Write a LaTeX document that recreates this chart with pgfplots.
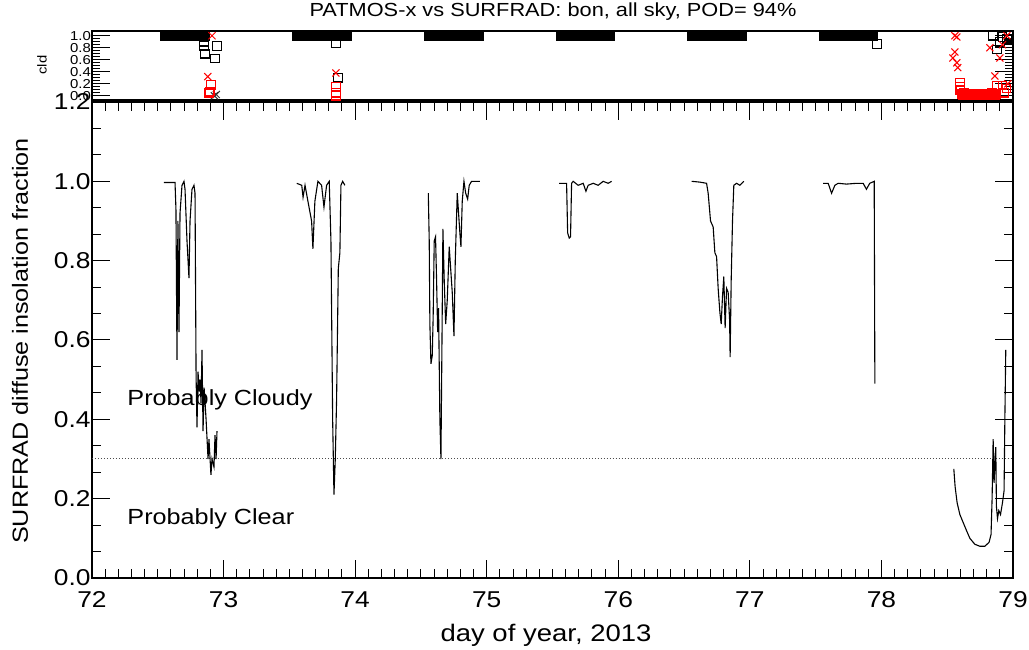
\documentclass[border=0pt]{standalone}
\usepackage{fontspec}
\setmainfont{Liberation Sans}[FakeStretch=1.15]
\usepackage{pgfplots}
\pgfplotsset{compat=1.18}
\begin{document}
\begin{tikzpicture}[x=1bp,y=1bp]
\path[use as bounding box] (0,0) rectangle (1029,650);
% ---------------- main panel ----------------
\begin{axis}[
  at={(92bp,72bp)}, anchor=south west,
  width=921bp, height=476bp, scale only axis,
  xmin=72, xmax=79, ymin=0, ymax=1.2,
  xtick={72,73,74,75,76,77,78,79},
  ytick={0,0.2,0.4,0.6,0.8,1.0,1.2},
  minor x tick num=9, minor y tick num=2,
  major tick length=18bp, minor tick length=9bp,
  tick align=inside,
  every tick/.style={black, line width=1bp},
  axis line style={black, line width=1.3bp},
  /pgf/number format/assume math mode=true,
  tick label style={font=\fontsize{23}{23}\selectfont},
  yticklabel style={/pgf/number format/fixed,/pgf/number format/fixed zerofill,/pgf/number format/precision=1, xshift=2bp},
  xticklabel style={yshift=-10bp},
  clip=false,
]
\addplot[black!70, line width=1bp, dotted] coordinates {(72,0.3) (79,0.3)};
% segment 1
\addplot[black, line width=1.1bp] coordinates {
(72.547,0.997)(72.631,0.997)(72.638,0.93)(72.646,0.55)(72.653,0.90)(72.661,0.62)(72.669,0.92)
(72.684,0.99)(72.699,1.0)(72.707,0.98)(72.722,0.85)(72.737,0.756)(72.745,0.90)(72.760,0.98)
(72.775,0.99)(72.783,0.97)(72.791,0.51)(72.798,0.38)(72.806,0.52)(72.814,0.47)(72.821,0.50)
(72.829,0.44)(72.836,0.575)(72.844,0.37)(72.852,0.48)(72.867,0.40)(72.882,0.30)(72.889,0.35)
(72.904,0.26)(72.912,0.30)(72.927,0.28)(72.935,0.36)(72.943,0.30)(72.950,0.37)};
% segment 2
\addplot[black, line width=1.1bp] coordinates {
(73.556,0.995)(73.594,0.99)(73.604,0.96)(73.619,0.99)(73.641,0.95)(73.669,0.90)(73.679,0.83)
(73.694,0.95)(73.717,1.0)(73.745,0.99)(73.763,0.935)(73.783,0.99)(73.803,1.0)(73.816,0.85)
(73.829,0.40)(73.839,0.21)(73.849,0.30)(73.859,0.45)(73.872,0.78)(73.884,0.82)(73.892,0.99)
(73.905,1.0)(73.922,0.99)};
% segment 3
\addplot[black, line width=1.1bp] coordinates {
(74.556,0.97)(74.563,0.85)(74.568,0.64)(74.576,0.54)(74.586,0.56)(74.593,0.66)(74.601,0.85)
(74.611,0.86)(74.619,0.75)(74.627,0.62)(74.634,0.68)(74.644,0.40)(74.652,0.30)(74.660,0.60)
(74.667,0.88)(74.677,0.75)(74.688,0.64)(74.700,0.70)(74.715,0.835)(74.726,0.78)(74.738,0.72)
(74.751,0.61)(74.761,0.80)(74.776,0.97)(74.786,0.92)(74.796,0.87)(74.804,0.835)(74.814,0.95)
(74.827,1.0)(74.840,0.97)(74.855,0.955)(74.867,0.99)(74.885,1.0)(74.948,1.0)};
% segment 4
\addplot[black, line width=1.1bp] coordinates {
(75.551,0.995)(75.607,0.995)(75.615,0.87)(75.627,0.857)(75.637,0.86)(75.645,0.995)(75.657,1.0)
(75.695,0.99)(75.733,0.995)(75.754,0.975)(75.771,0.99)(75.809,0.995)(75.847,0.99)(75.885,1.0)
(75.923,0.995)(75.949,1.0)};
% segment 5
\addplot[black, line width=1.1bp] coordinates {
(76.557,1.0)(76.620,0.998)(76.671,0.995)(76.683,0.97)(76.701,0.90)(76.721,0.885)(76.734,0.82)
(76.747,0.81)(76.759,0.73)(76.772,0.67)(76.782,0.64)(76.792,0.71)(76.802,0.76)(76.812,0.63)
(76.823,0.73)(76.835,0.72)(76.846,0.65)(76.850,0.557)(76.858,0.75)(76.868,0.90)(76.878,0.99)
(76.899,0.995)(76.924,0.99)(76.954,1.0)};
% segment 6
\addplot[black, line width=1.1bp] coordinates {
(77.557,0.995)(77.595,0.995)(77.621,0.97)(77.646,0.99)(77.671,0.995)(77.735,0.993)(77.811,0.995)
(77.861,0.995)(77.886,0.98)(77.911,0.995)(77.945,1.0)(77.950,0.49)};
% segment 7
\addplot[black, line width=1.1bp] coordinates {
(78.550,0.275)(78.560,0.23)(78.575,0.19)(78.596,0.16)(78.621,0.14)(78.646,0.12)(78.672,0.10)
(78.710,0.085)(78.748,0.08)(78.786,0.08)(78.818,0.09)(78.833,0.11)(78.841,0.20)(78.849,0.35)
(78.856,0.24)(78.864,0.30)(78.869,0.33)(78.874,0.18)(78.882,0.15)(78.892,0.17)(78.905,0.16)
(78.920,0.19)(78.932,0.22)(78.938,0.40)(78.945,0.575)};
\node[anchor=base west, font=\fontsize{22}{22}\selectfont] at (axis cs:72.243,0.436) {Probably Cloudy};
\node[anchor=base west, font=\fontsize{22}{22}\selectfont] at (axis cs:72.243,0.134) {Probably Clear};
\end{axis}
% ---------------- top panel ----------------
\begin{axis}[
  at={(92bp,550bp)}, anchor=south west,
  width=921bp, height=69bp, scale only axis,
  xmin=72, xmax=79, ymin=-0.07, ymax=1.08,
  xtick=\empty,
  ytick={0,0.2,0.4,0.6,0.8,1.0},
  minor y tick num=3,
  major tick length=18bp, minor tick length=8bp,
  tick align=inside,
  every tick/.style={black, line width=1bp},
  axis line style={black, line width=1.3bp},
  /pgf/number format/assume math mode=true,
  yticklabel style={font=\fontsize{13}{13}\selectfont,/pgf/number format/fixed,/pgf/number format/fixed zerofill,/pgf/number format/precision=1, inner sep=1bp},
  clip=false,
]
% dense runs of cloudy (cld=1) retrievals, drawn as solid bars of squares
\addplot[only marks, mark=square*, mark size=4.3bp, black, mark options={line width=1bp}] coordinates {
(72.55,1)(72.57,1)(72.59,1)(72.61,1)(72.63,1)(72.65,1)(72.67,1)(72.69,1)(72.71,1)(72.73,1)(72.75,1)(72.77,1)(72.79,1)(72.81,1)(72.83,1)(72.85,1)(72.86,1)
(73.56,1)(73.58,1)(73.60,1)(73.62,1)(73.64,1)(73.66,1)(73.68,1)(73.70,1)(73.72,1)(73.74,1)(73.76,1)(73.78,1)(73.80,1)(73.82,1)(73.84,1)(73.86,1)(73.88,1)(73.90,1)(73.92,1)(73.94,1)
(74.56,1)(74.58,1)(74.60,1)(74.62,1)(74.64,1)(74.66,1)(74.68,1)(74.70,1)(74.72,1)(74.74,1)(74.76,1)(74.78,1)(74.80,1)(74.82,1)(74.84,1)(74.86,1)(74.88,1)(74.90,1)(74.92,1)(74.94,1)
(75.56,1)(75.58,1)(75.60,1)(75.62,1)(75.64,1)(75.66,1)(75.68,1)(75.70,1)(75.72,1)(75.74,1)(75.76,1)(75.78,1)(75.80,1)(75.82,1)(75.84,1)(75.86,1)(75.88,1)(75.90,1)(75.92,1)(75.94,1)
(76.56,1)(76.58,1)(76.60,1)(76.62,1)(76.64,1)(76.66,1)(76.68,1)(76.70,1)(76.72,1)(76.74,1)(76.76,1)(76.78,1)(76.80,1)(76.82,1)(76.84,1)(76.86,1)(76.88,1)(76.90,1)(76.92,1)(76.94,1)
(77.56,1)(77.58,1)(77.60,1)(77.62,1)(77.64,1)(77.66,1)(77.68,1)(77.70,1)(77.72,1)(77.74,1)(77.76,1)(77.78,1)(77.80,1)(77.82,1)(77.84,1)(77.86,1)(77.88,1)(77.90,1)(77.92,1)(77.94,1)};
% isolated black squares
\addplot[only marks, mark=square, mark size=4.3bp, black, mark options={line width=1.2bp}] coordinates {
(72.851,0.90)(72.851,0.83)(72.95,0.83)(72.859,0.70)(72.935,0.62)
(73.854,0.88)(73.87,0.30)
(77.965,0.86)
(78.847,1.0)(78.877,0.77)(78.92,0.98)(78.953,0.95)(78.968,1.0)(78.90,0.90)};
% black x
\addplot[only marks, mark=x, mark size=5bp, black!80, mark options={line width=1bp}] coordinates {
(72.93,0.0)(72.945,0.02)};
% red x
\addplot[only marks, mark=x, mark size=5bp, red, mark options={line width=1bp}] coordinates {
(72.912,1.0)(72.88,0.32)(73.854,0.38)
(78.558,1.0)(78.573,0.98)(78.558,0.73)(78.543,0.63)(78.573,0.55)(78.58,0.47)
(78.824,0.8)(78.90,0.63)(78.862,0.33)(78.953,1.0)(78.96,0.2)(78.92,0.85)};
% red squares
\addplot[only marks, mark=square, mark size=4.3bp, red, mark options={line width=1.2bp}] coordinates {
(72.904,0.18)(72.896,0.07)(72.889,0.05)
(73.854,0.15)(73.854,0.05)(73.854,0.0)
(78.596,0.22)(78.596,0.15)(78.60,0.10)
(78.61,0.03)(78.62,0.01)(78.63,0.04)(78.64,0.02)(78.65,0.01)(78.66,0.03)(78.67,0.02)(78.68,0.01)
(78.69,0.03)(78.70,0.02)(78.71,0.01)(78.72,0.03)(78.73,0.02)(78.74,0.01)(78.75,0.02)(78.76,0.03)
(78.77,0.02)(78.78,0.01)(78.79,0.03)(78.80,0.02)(78.81,0.01)(78.82,0.02)(78.83,0.03)(78.84,0.05)
(78.85,0.02)(78.86,0.01)(78.87,0.03)
(78.877,0.17)(78.92,0.17)(78.95,0.12)(78.93,0.05)};
\end{axis}
% ---------------- texts ----------------
\node[font=\fontsize{19}{19}\selectfont] at (553,638) {PATMOS-x vs SURFRAD: bon, all sky, POD= 94\%};
\node[font=\fontsize{24}{24}\selectfont] at (546,15) {day of year, 2013};
\node[font=\fontsize{22}{22}\selectfont, rotate=90] at (20,309) {SURFRAD diffuse insolation fraction};
\node[font=\fontsize{13}{13}\selectfont, rotate=90] at (42,585) {cld};
\end{tikzpicture}
\end{document}
